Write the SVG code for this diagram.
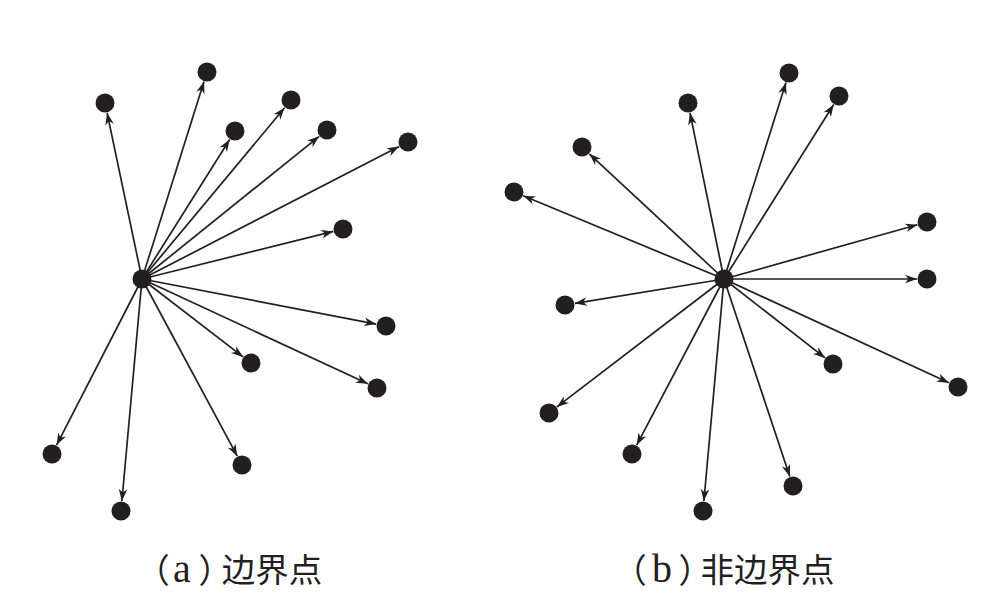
<svg xmlns="http://www.w3.org/2000/svg" width="988" height="608" viewBox="0 0 988 608">
<style>
.n{fill:#231f20}
.e{stroke:#231f20;stroke-width:1.7;fill:none;marker-end:url(#ah)}
.lbl{font-family:"Noto Sans CJK SC",sans-serif;font-size:33.5px;fill:#231f20}
.lat{font-family:"Liberation Serif","Noto Sans CJK SC",serif;font-size:40px}
.p{font-feature-settings:"halt" 1}
</style>
<defs>
<marker id="ah" markerUnits="userSpaceOnUse" markerWidth="14" markerHeight="12" viewBox="-13 -6 14 12" refX="0" refY="0" orient="auto">
<path d="M0,0 L-12,-4.3 L-8.5,0 L-12,4.3 Z" fill="#231f20"/>
</marker>
</defs>
<rect width="988" height="608" fill="#fff"/>
<g id="connectors">
<line class="e" x1="142" y1="279" x2="107.1" y2="112.8"/>
<line class="e" x1="142" y1="279" x2="204.0" y2="81.5"/>
<line class="e" x1="142" y1="279" x2="229.7" y2="139.5"/>
<line class="e" x1="142" y1="279" x2="284.6" y2="107.7"/>
<line class="e" x1="142" y1="279" x2="319.2" y2="136.3"/>
<line class="e" x1="142" y1="279" x2="399.1" y2="146.6"/>
<line class="e" x1="142" y1="279" x2="333.3" y2="231.4"/>
<line class="e" x1="142" y1="279" x2="376.2" y2="324.1"/>
<line class="e" x1="142" y1="279" x2="243.1" y2="356.9"/>
<line class="e" x1="142" y1="279" x2="367.9" y2="383.8"/>
<line class="e" x1="142" y1="279" x2="237.3" y2="456.2"/>
<line class="e" x1="142" y1="279" x2="56.6" y2="445.1"/>
<line class="e" x1="142" y1="279" x2="121.9" y2="501.0"/>
<line class="e" x1="724" y1="279" x2="690.0" y2="112.8"/>
<line class="e" x1="724" y1="279" x2="786.0" y2="82.5"/>
<line class="e" x1="724" y1="279" x2="833.7" y2="104.5"/>
<line class="e" x1="724" y1="279" x2="589.3" y2="153.8"/>
<line class="e" x1="724" y1="279" x2="523.2" y2="195.8"/>
<line class="e" x1="724" y1="279" x2="917.4" y2="224.7"/>
<line class="e" x1="724" y1="279" x2="917" y2="279"/>
<line class="e" x1="724" y1="279" x2="574.9" y2="303.4"/>
<line class="e" x1="724" y1="279" x2="825.1" y2="357.9"/>
<line class="e" x1="724" y1="279" x2="948.9" y2="382.8"/>
<line class="e" x1="724" y1="279" x2="556.9" y2="406.9"/>
<line class="e" x1="724" y1="279" x2="636.7" y2="445.1"/>
<line class="e" x1="724" y1="279" x2="789.8" y2="476.5"/>
<line class="e" x1="724" y1="279" x2="703.9" y2="501.0"/>
</g>
<g id="a-center"><circle class="n" cx="142" cy="279" r="9.5"/></g>
<g id="a1"><circle class="n" cx="105" cy="103" r="9.5"/></g>
<g id="a2"><circle class="n" cx="207" cy="72" r="9.5"/></g>
<g id="a3"><circle class="n" cx="235" cy="131" r="9.5"/></g>
<g id="a4"><circle class="n" cx="291" cy="100" r="9.5"/></g>
<g id="a5"><circle class="n" cx="327" cy="130" r="9.5"/></g>
<g id="a6"><circle class="n" cx="408" cy="142" r="9.5"/></g>
<g id="a7"><circle class="n" cx="343" cy="229" r="9.5"/></g>
<g id="a8"><circle class="n" cx="386" cy="326" r="9.5"/></g>
<g id="a9"><circle class="n" cx="251" cy="363" r="9.5"/></g>
<g id="a10"><circle class="n" cx="377" cy="388" r="9.5"/></g>
<g id="a11"><circle class="n" cx="242" cy="465" r="9.5"/></g>
<g id="a12"><circle class="n" cx="52" cy="454" r="9.5"/></g>
<g id="a13"><circle class="n" cx="121" cy="511" r="9.5"/></g>
<g id="b-center"><circle class="n" cx="724" cy="279" r="9.5"/></g>
<g id="b1"><circle class="n" cx="688" cy="103" r="9.5"/></g>
<g id="b2"><circle class="n" cx="789" cy="73" r="9.5"/></g>
<g id="b3"><circle class="n" cx="839" cy="96" r="9.5"/></g>
<g id="b4"><circle class="n" cx="582" cy="147" r="9.5"/></g>
<g id="b5"><circle class="n" cx="514" cy="192" r="9.5"/></g>
<g id="b6"><circle class="n" cx="927" cy="222" r="9.5"/></g>
<g id="b7"><circle class="n" cx="927" cy="279" r="9.5"/></g>
<g id="b8"><circle class="n" cx="565" cy="305" r="9.5"/></g>
<g id="b9"><circle class="n" cx="833" cy="364" r="9.5"/></g>
<g id="b10"><circle class="n" cx="958" cy="387" r="9.5"/></g>
<g id="b11"><circle class="n" cx="549" cy="413" r="9.5"/></g>
<g id="b12"><circle class="n" cx="632" cy="454" r="9.5"/></g>
<g id="b13"><circle class="n" cx="793" cy="486" r="9.5"/></g>
<g id="b14"><circle class="n" cx="703" cy="511" r="9.5"/></g>
<g id="captions">
<text class="lbl" y="582"><tspan class="p" x="153">（</tspan><tspan class="lat" x="173">a</tspan><tspan class="p" x="198.5">）</tspan><tspan x="221.7">边界点</tspan></text>
<text class="lbl" y="582"><tspan class="p" x="630">（</tspan><tspan class="lat" x="652">b</tspan><tspan class="p" x="678.5">）</tspan><tspan x="700.4">非边界点</tspan></text>
</g>
</svg>
